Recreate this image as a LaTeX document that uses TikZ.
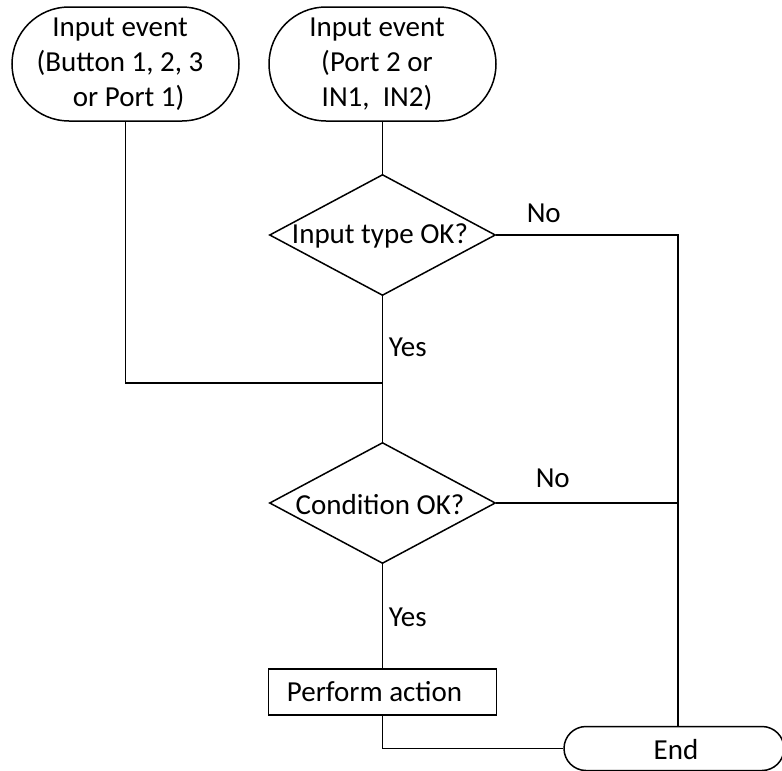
\documentclass[tikz,border=0pt]{standalone}
\usepackage{fontspec}
\setmainfont{Carlito}
\usetikzlibrary{shapes.geometric}
\begin{document}
\begin{tikzpicture}[x=1pt,y=-1pt,
  line width=1.5pt,
  every node/.style={font=\fontsize{29pt}{35pt}\selectfont},
  term/.style={draw, rounded corners=57pt, minimum width=227pt, minimum height=114pt, inner sep=0pt, align=center},
  dia/.style={draw, diamond, inner sep=0pt, minimum width=226pt, minimum height=121pt},
  txt/.style={inner sep=0pt, align=center},
  lbl/.style={inner sep=0pt, anchor=west},
  act/.style={draw, rectangle, inner sep=0pt, minimum width=228pt, minimum height=46pt},
  endbox/.style={draw, rounded corners=22pt, minimum width=220pt, minimum height=44pt, inner sep=0pt}]
\useasboundingbox (0,0) rectangle (782,771);
\clip (0,0) rectangle (782,771);
% shapes
\node[term] (t1) at (125.5,64) {};
\node[txt] (t1txt) at (120,64) {Input event\\(Button 1, 2, 3\\\hspace*{0.6em}or Port 1)};
\node[term] (t2) at (382.5,64) {};
\node[txt] (t2txt) at (377,64) {Input event\\(Port 2 or\\IN1,\ \ IN2)};
\node[dia] (d1) at (382.5,235) {};
\node[txt] (d1txt) at (380,236) {Input type OK?};
\node[dia] (d2) at (382.5,503) {};
\node[txt] (d2txt) at (380,505) {Condition OK?};
\node[act] (r) at (382.5,692) {};
\node[txt] (rtxt) at (374.5,692) {Perform action};
\node[endbox] (e) at (674,748.5) {};
\node[txt] (etxt) at (676,750) {End};
% junction coordinates
\coordinate (j1) at (382.5,383);
\coordinate (c1) at (678,235);
\coordinate (c2) at (678,503);
% connectors
\draw (t1.south) |- (j1);
\draw (t2.south) -- (d1.north);
\draw (d1.south) -- (d2.north);
\draw (d1.east) -- (c1) -- (c1 |- e.north);
\draw (d2.east) -- (c2);
\draw (d2.south) -- (r.north);
\draw (r.south) |- (e.west);
% labels
\node[lbl] (no1) at (526,213) {No};
\node[lbl] (yes1) at (388,347) {Yes};
\node[lbl] (no2) at (535,478) {No};
\node[lbl] (yes2) at (388,617) {Yes};
\end{tikzpicture}
\end{document}
